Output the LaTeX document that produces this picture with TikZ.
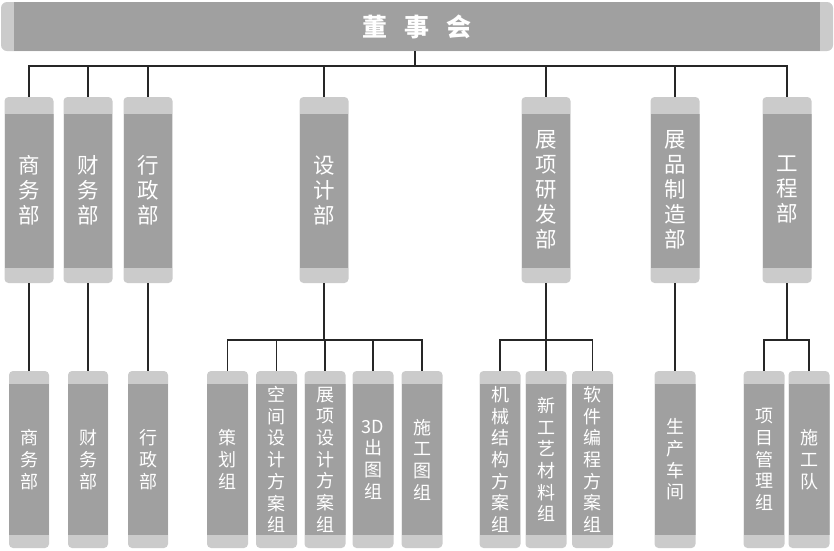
\documentclass[tikz,border=0pt]{standalone}
\usepackage{fontspec}
\newfontfamily\cjk{Noto Sans CJK SC}
\usetikzlibrary{positioning}
\definecolor{capgray}{HTML}{CBCBCB}
\definecolor{bandgray}{HTML}{A0A0A0}
\tikzset{
  cbox/.style 2 args={rounded corners=4pt,fill=capgray,text=white,align=center,inner sep=0pt,
    path picture={\fill[bandgray,sharp corners] ([yshift=-#1]path picture bounding box.north west) rectangle ([yshift=#2]path picture bounding box.south east);}},
  tbar/.style={rounded corners=6pt,fill=capgray,text=white,inner sep=0pt,minimum width=832pt,minimum height=49pt,
    font=\cjk\bfseries\fontsize{25}{30}\selectfont,
    path picture={\fill[bandgray,sharp corners] ([xshift=13pt]path picture bounding box.north west) rectangle ([xshift=-13pt]path picture bounding box.south east);}},
  dbox/.style={cbox={17pt}{15pt},minimum width=49pt,minimum height=186pt,font=\cjk\fontsize{21.5}{25}\selectfont},
  gbox/.style={cbox={13pt}{13pt},minimum width=41pt,minimum height=177pt,font=\cjk\fontsize{18}{21.7}\selectfont},
  ln/.style={draw=black!85,line width=1.1pt}
}
\begin{document}
\begin{tikzpicture}[x=1pt,y=-1pt]
\useasboundingbox (0,0) rectangle (834,550);
% board
\node[tbar] (board) at (417,26.5) {董\hspace{17pt}事\hspace{17pt}会};
% departments
\node[dbox] (shang) at (29,190) {商\\务\\部};
\node[dbox] (cai) at (88,190) {财\\务\\部};
\node[dbox] (xing) at (148,190) {行\\政\\部};
\node[dbox] (sheji) at (324,190) {设\\计\\部};
\node[dbox] (zhanyan) at (546,190) {展\\项\\研\\发\\部};
\node[dbox] (zhanpin) at (675,190) {展\\品\\制\\造\\部};
\node[dbox] (gongcheng) at (787,190) {工\\程\\部};
% groups
\node[gbox,minimum width=40pt] (shang2) at (29,459.5) {商\\务\\部};
\node[gbox,minimum width=40pt] (cai2) at (88,459.5) {财\\务\\部};
\node[gbox,minimum width=40pt] (xing2) at (148,459.5) {行\\政\\部};
\node[gbox] (cehua) at (227.5,459.5) {策\\划\\组};
\node[gbox] (kongjian) at (276.5,459.5) {空\\间\\设\\计\\方\\案\\组};
\node[gbox] (zhanxiang) at (325,459.5) {展\\项\\设\\计\\方\\案\\组};
\node[gbox] (chutu) at (373,459.5) {3D\\出\\图\\组};
\node[gbox] (shigongtu) at (422,459.5) {施\\工\\图\\组};
\node[gbox] (jixie) at (500,459.5) {机\\械\\结\\构\\方\\案\\组};
\node[gbox] (xingongyi) at (546,459.5) {新\\工\\艺\\材\\料\\组};
\node[gbox] (ruanjian) at (592.5,459.5) {软\\件\\编\\程\\方\\案\\组};
\node[gbox] (chejian) at (675,459.5) {生\\产\\车\\间};
\node[gbox] (xiangmu) at (764,459.5) {项\\目\\管\\理\\组};
\node[gbox] (shigongdui) at (809,459.5) {施\\工\\队};
% connectors
\coordinate (bus) at (415,66);
\draw[ln] (bus) -- (bus |- board.south);
\foreach \n in {shang,cai,xing,sheji,zhanyan,zhanpin,gongcheng}
  \draw[ln] (\n.north) |- (bus);
\draw[ln] (shang.south) -- (shang2.north);
\draw[ln] (cai.south) -- (cai2.north);
\draw[ln] (xing.south) -- (xing2.north);
\draw[ln] (zhanpin.south) -- (chejian.north);
\coordinate (sjbus) at (324,340);
\draw[ln] (sheji.south) -- (sjbus);
\foreach \n in {cehua,kongjian,zhanxiang,chutu,shigongtu}
  \draw[ln] (\n.north) |- (sjbus);
\coordinate (zybus) at (546,340);
\draw[ln] (zhanyan.south) -- (zybus);
\foreach \n in {jixie,xingongyi,ruanjian}
  \draw[ln] (\n.north) |- (zybus);
\coordinate (gcbus) at (787,340);
\draw[ln] (gongcheng.south) -- (gcbus);
\foreach \n in {xiangmu,shigongdui}
  \draw[ln] (\n.north) |- (gcbus);
\end{tikzpicture}
\end{document}
